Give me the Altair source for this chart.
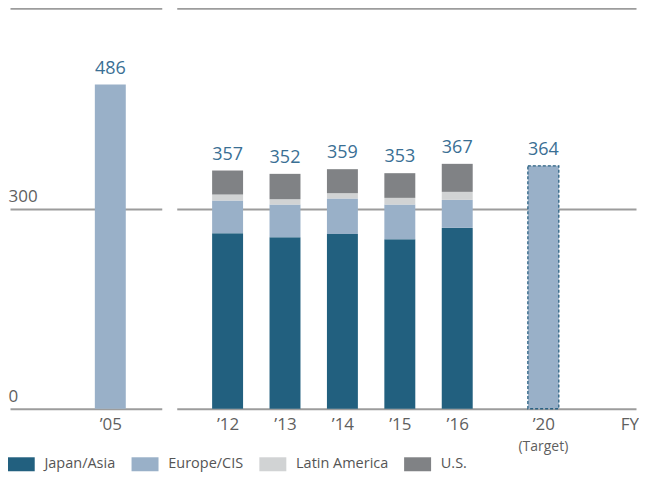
import altair as alt
import pandas as pd

# ---- data ----
years = ["’12", "’13", "’14", "’15", "’16"]
regions = ["Japan/Asia", "Europe/CIS", "Latin America", "U.S."]
japan_asia = [263, 257, 262, 254, 271]
europe_cis = [49, 49, 53, 52, 42]
latin_america = [9, 8, 8, 10, 12]
us = [36, 38, 36, 37, 42]
totals = [357, 352, 359, 353, 367]

fy05_label = "’05"
fy05_value = 486
target_label = "’20"
target_value = 364
target_note = "(Target)"
fy_label = "FY"

region_colors = ["#22607f", "#99b0c8", "#d1d3d4", "#808285"]
label_values = [0, 300]
grid_values = [0, 300, 600]
top_value = [600]

# ---- tables ----
series = [japan_asia, europe_cis, latin_america, us]
rows = []
for i, yr in enumerate(years):
    for j, r in enumerate(regions):
        rows.append({"year": yr, "region": r, "value": series[j][i], "order": j})
stack_df = pd.DataFrame(rows)
totals_df = pd.DataFrame({"year": years + [target_label], "total": totals + [target_value]})
target_df = pd.DataFrame({"year": [target_label], "value": [target_value], "note": [target_note]})
left_df = pd.DataFrame({"year": [fy05_label], "value": [fy05_value]})

# x domain of the right panel: spacer slots keep the gaps of the original
sp = [" " * k for k in range(1, 9)]
right_domain = [years[0], sp[0], years[1], sp[1], years[2], sp[2], years[3], sp[3],
                years[4], sp[4], sp[5], target_label, sp[6], sp[7], fy_label]

FONT = "Open Sans"
GRID = "#9c9c9c"
LABEL = "#5f5f5f"
VALUE = "#3a6f94"
H = 401

yscale = alt.Scale(domain=[0, 600], nice=False, zero=True)

xaxis = alt.Axis(title=None, domain=False, ticks=False, labelAngle=0, labelPadding=8,
                 labelFontSize=17, labelColor=LABEL, labelFont=FONT)

# ---- left panel ('05) ----
lx = alt.X("year:N", scale=alt.Scale(type="point", domain=[fy05_label], align=0.661, padding=0.5),
           axis=xaxis)
left_bar = alt.Chart(left_df).mark_bar(width=31, color="#99b0c8").encode(
    x=lx,
    y=alt.Y("value:Q", scale=yscale,
            axis=alt.Axis(title=None, values=label_values, grid=True, gridColor=GRID, gridWidth=2,
                          domain=False, ticks=False, tickSize=0, labelAlign="left",
                          labelBaseline="alphabetic", labelPadding=2, labelOffset=-7,
                          labelFontSize=17, labelColor=LABEL, labelFont=FONT)),
)
left_text = alt.Chart(left_df).mark_text(baseline="alphabetic", dy=-10, fontSize=18,
                                          color=VALUE, font=FONT).encode(
    x=lx,
    y=alt.Y("value:Q", scale=yscale,
            axis=alt.Axis(title=None, orient="right", values=top_value, grid=True, gridColor=GRID,
                          gridWidth=2, domain=False, ticks=False, labels=False)),
    text=alt.Text("value:Q"))
left = alt.layer(left_bar, left_text).resolve_axis(y="independent").properties(width=152, height=H)

# ---- right panel ----
rx = alt.X("year:N", scale=alt.Scale(type="point", domain=right_domain, padding=1.185, align=0.886),
           axis=xaxis)
ry_axis = alt.Axis(title=None, values=grid_values, grid=True, gridColor=GRID, gridWidth=2,
                   domain=False, ticks=False, labels=False)

stack = alt.Chart(stack_df).mark_bar(width=31).encode(
    x=rx,
    y=alt.Y("sum(value):Q", scale=yscale, axis=ry_axis, stack="zero"),
    color=alt.Color("region:N",
                    scale=alt.Scale(domain=regions, range=region_colors),
                    legend=alt.Legend(orient="none", legendX=4, legendY=449, direction="horizontal",
                                      title=None, symbolType="M-1.93,-1H1.93V1H-1.93Z",
                                      symbolSize=196, symbolStrokeWidth=0, labelFontSize=14.5,
                                      labelFont=FONT, labelColor="#555555", labelOffset=16,
                                      columnPadding=15, padding=0)),
    order=alt.Order("order:Q", sort="ascending"),
)
target_bar = alt.Chart(target_df).mark_bar(width=31, color="#99b0c8", stroke="#2b6283",
                                           strokeDash=[3, 2], strokeWidth=1.3).encode(
    x=rx, y=alt.Y("value:Q", scale=yscale))
tot_text = alt.Chart(totals_df).mark_text(baseline="alphabetic", dy=-11, fontSize=18,
                                           color=VALUE, font=FONT).encode(
    x=rx, y=alt.Y("total:Q", scale=yscale), text=alt.Text("total:Q"))
note_text = alt.Chart(target_df).mark_text(baseline="top", dy=31, fontSize=14,
                                            color=LABEL, font=FONT).encode(
    x=rx, y=alt.datum(0, scale=yscale), text="note:N")
right = alt.layer(stack, target_bar, tot_text, note_text).properties(width=460, height=H)

chart = alt.hconcat(left, right, spacing=15).properties(
    padding={"left": 0, "top": 0, "right": 0, "bottom": 0}
).configure(font=FONT, view=alt.ViewConfig(stroke=None))

chart.save("out.html", embed_options={"renderer": "svg", "actions": False})
